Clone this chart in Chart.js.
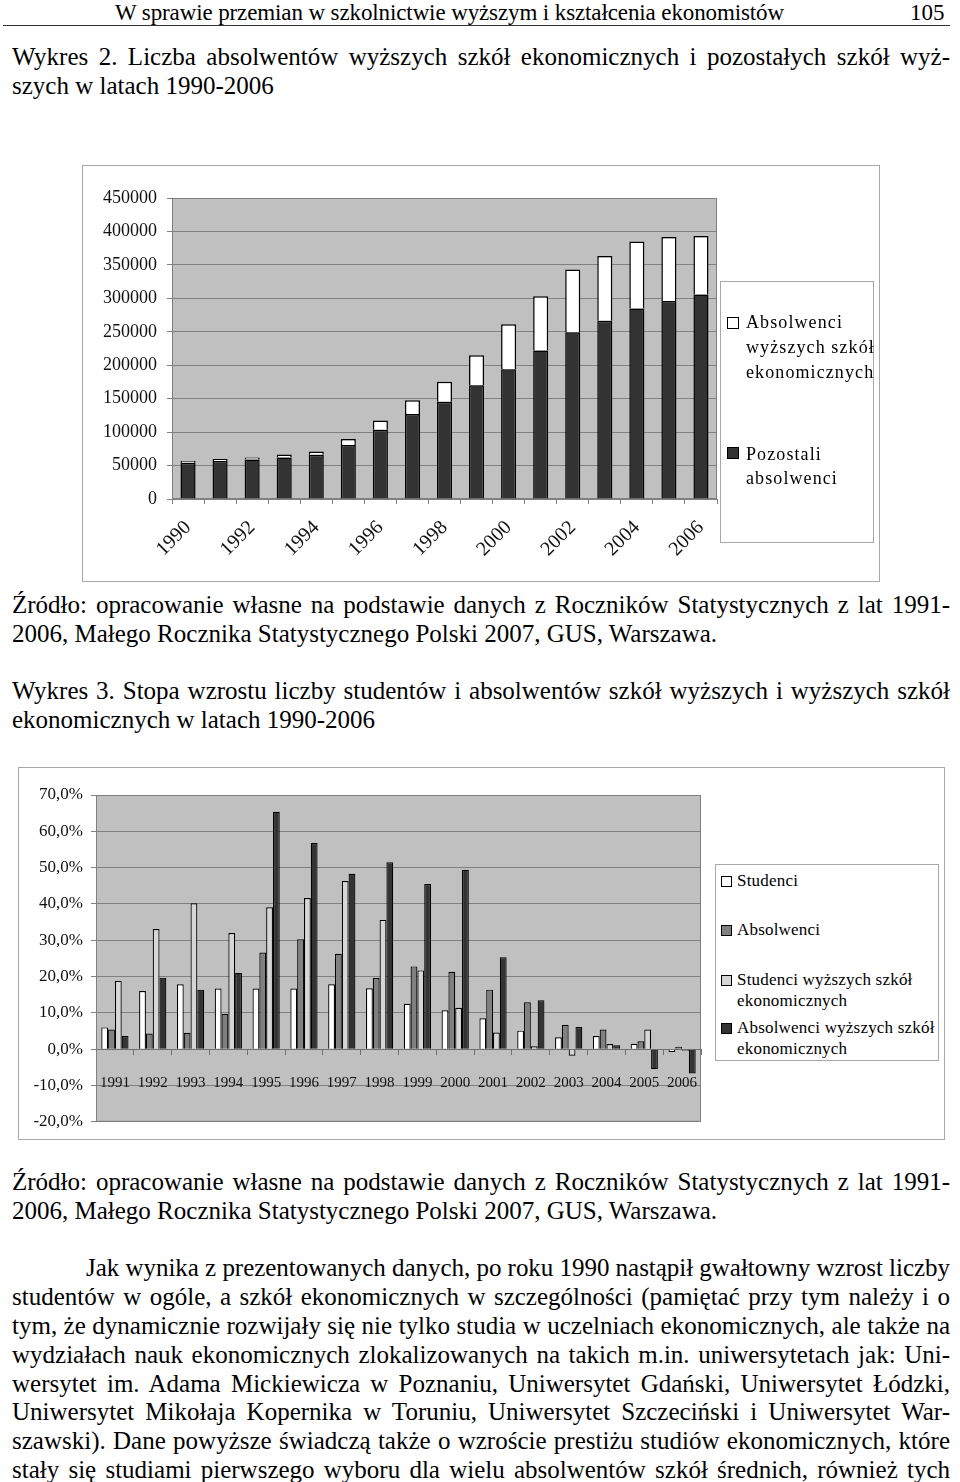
<!DOCTYPE html>
<html>
<head>
<meta charset="utf-8">
<script src="https://cdn.jsdelivr.net/npm/chart.js@4.4.0/dist/chart.umd.min.js"></script>
<style>
  body { margin:0; background:#fff; width:960px; height:1482px; position:relative; overflow:hidden;
         font-family:'Liberation Serif','Times New Roman',serif; color:#000; }
  .ln { position:absolute; white-space:nowrap; line-height:1; }
  .frame { position:absolute; border:1px solid #a8a8a8; box-sizing:border-box; }
  canvas { position:absolute; }
  .leg { position:absolute; border:1px solid #a8a8a8; box-sizing:border-box; background:#fff; }
  .sw { position:absolute; border:1px solid #000; box-sizing:border-box; }
  #hr { position:absolute; left:3px; top:25px; width:947px; height:1px; background:#333; }
</style>
</head>
<body>
<div id="hr"></div>

<div class="frame" style="left:82px;top:165px;width:798px;height:417px"></div>
<canvas id="wykres2" width="798" height="417" style="left:82px;top:165px"></canvas>

<div class="frame" style="left:18px;top:767px;width:927px;height:373px"></div>
<canvas id="wykres3" width="927" height="373" style="left:18px;top:767px"></canvas>

<script>
// Wykres 2 - liczba absolwentow
const lata2 = ['1990','1991','1992','1993','1994','1995','1996','1997','1998','1999','2000','2001','2002','2003','2004','2005','2006'];
const pozostali = [54300, 56700, 59200, 62200, 66200, 80600, 103500, 126900, 145400, 170200, 194100, 222000, 249400, 266300, 284700, 296200, 305600];
const ekonomiczni = [2500, 3000, 3000, 4500, 5000, 9000, 14000, 20900, 29800, 44800, 67200, 81200, 93600, 97100, 100100, 95600, 87700];

// Wykres 3 - stopa wzrostu (%)
const lata3 = ['1991','1992','1993','1994','1995','1996','1997','1998','1999','2000','2001','2002','2003','2004','2005','2006'];
const studenci = [6.0, 16.0, 17.9, 16.7, 16.7, 16.7, 17.9, 16.8, 12.5, 10.7, 8.5, 5.1, 3.3, 3.6, 1.5, -0.8];
const absolwenci = [5.4, 4.3, 4.5, 9.7, 26.6, 30.3, 26.3, 19.6, 22.8, 21.3, 16.4, 12.9, 6.7, 5.4, 2.2, 0.7];
const studenciEkon = [18.8, 33.1, 40.2, 32.0, 39.1, 41.6, 46.3, 35.6, 21.7, 11.4, 4.6, 0.8, -1.8, 1.4, 5.4, -0.4];
const absolwenciEkon = [3.6, 19.7, 16.4, 21.0, 65.4, 56.8, 48.3, 51.5, 45.5, 49.4, 25.3, 13.5, 6.1, 1.1, -5.5, -6.7];

const serif = "'Liberation Serif','Times New Roman',serif";

// tekst strony: [tekst, x, linia bazowa, szerokosc do justowania (0 = brak), rozmiar]
const wiersze = [
  ['W sprawie przemian w szkolnictwie wyższym i kształcenia ekonomistów', 115, 20, 669, 23],
  ['105', 910, 20, 0, 23],
  ['Wykres 2. Liczba absolwentów wyższych szkół ekonomicznych i pozostałych szkół wyż-', 12, 64.5, 938, 25],
  ['szych w latach 1990-2006', 12, 93.5, 0, 25],
  ['Źródło: opracowanie własne na podstawie danych z Roczników Statystycznych z lat 1991-', 12, 613, 938, 25],
  ['2006, Małego Rocznika Statystycznego Polski 2007, GUS, Warszawa.', 12, 642, 0, 25],
  ['Wykres 3. Stopa wzrostu liczby studentów i absolwentów szkół wyższych i wyższych szkół', 12, 699, 938, 25],
  ['ekonomicznych w latach 1990-2006', 12, 728, 0, 25],
  ['Źródło: opracowanie własne na podstawie danych z Roczników Statystycznych z lat 1991-', 12, 1190, 938, 25],
  ['2006, Małego Rocznika Statystycznego Polski 2007, GUS, Warszawa.', 12, 1219, 0, 25],
  ['Jak wynika z prezentowanych danych, po roku 1990 nastąpił gwałtowny wzrost liczby', 86, 1276, 864, 25],
  ['studentów w ogóle, a szkół ekonomicznych w szczególności (pamiętać przy tym należy i o', 12, 1305, 938, 25],
  ['tym, że dynamicznie rozwijały się nie tylko studia w uczelniach ekonomicznych, ale także na', 12, 1334, 938, 25],
  ['wydziałach nauk ekonomicznych zlokalizowanych na takich m.in. uniwersytetach jak: Uni-', 12, 1362.5, 938, 25],
  ['wersytet im. Adama Mickiewicza w Poznaniu, Uniwersytet Gdański, Uniwersytet Łódzki,', 12, 1391.5, 938, 25],
  ['Uniwersytet Mikołaja Kopernika w Toruniu, Uniwersytet Szczeciński i Uniwersytet War-', 12, 1420, 938, 25],
  ['szawski). Dane powyższe świadczą także o wzroście prestiżu studiów ekonomicznych, które', 12, 1449, 938, 25],
  ['stały się studiami pierwszego wyboru dla wielu absolwentów szkół średnich, również tych', 12, 1478, 938, 25]
];

function dodajTekst(t, x, base, size, spacing) {
  const el = document.createElement('div');
  el.className = 'ln';
  el.textContent = t;
  el.style.fontSize = size + 'px';
  el.style.left = x + 'px';
  el.style.top = (base - size * 0.8375) + 'px';
  if (spacing) el.style.letterSpacing = spacing + 'px';
  document.body.appendChild(el);
  return el;
}

wiersze.forEach(([t, x, base, w, size]) => {
  const el = dodajTekst(t, x, base, size);
  if (!w) return;
  const nat = el.getBoundingClientRect().width;
  const spaces = (t.match(/ /g) || []).length;
  if (nat > w) el.style.letterSpacing = ((w - nat) / t.length) + 'px';
  else if (spaces) el.style.wordSpacing = ((w - nat) / spaces) + 'px';
});

// legendy (html)
function legenda(box, pozycje, size, spacing) {
  const l = document.createElement('div');
  l.className = 'leg';
  Object.assign(l.style, { left: box[0] + 'px', top: box[1] + 'px', width: box[2] + 'px', height: box[3] + 'px' });
  document.body.appendChild(l);
  pozycje.forEach(p => {
    const s = document.createElement('div');
    s.className = 'sw';
    Object.assign(s.style, { left: p.sx + 'px', top: p.sy + 'px', width: p.sw + 'px', height: p.sw + 'px', background: p.kolor });
    document.body.appendChild(s);
    p.linie.forEach((t, i) => dodajTekst(t, p.tx, p.base + i * p.lh, size, spacing));
  });
}

legenda([720, 281, 154, 262], [
  { kolor: '#fff', sx: 727, sy: 317, sw: 12, tx: 746, base: 328, lh: 25, linie: ['Absolwenci', 'wyższych szkół', 'ekonomicznych'] },
  { kolor: '#333', sx: 727, sy: 447, sw: 12, tx: 746, base: 460, lh: 24, linie: ['Pozostali', 'absolwenci'] }
], 18, 1.1);

legenda([715, 864, 224, 197], [
  { kolor: '#fff', sx: 721, sy: 876, sw: 11, tx: 737, base: 886, lh: 21, linie: ['Studenci'] },
  { kolor: '#808080', sx: 721, sy: 925, sw: 11, tx: 737, base: 935, lh: 21, linie: ['Absolwenci'] },
  { kolor: '#d6d6d6', sx: 721, sy: 975, sw: 11, tx: 737, base: 985, lh: 21, linie: ['Studenci wyższych szkół', 'ekonomicznych'] },
  { kolor: '#333', sx: 721, sy: 1023, sw: 11, tx: 737, base: 1033, lh: 21, linie: ['Absolwenci wyższych szkół', 'ekonomicznych'] }
], 17, 0.2);

// szare tlo obszaru wykresu
const tloWykresu = {
  id: 'tloWykresu',
  beforeDraw(chart) {
    const { ctx, chartArea: a } = chart;
    ctx.save();
    ctx.fillStyle = '#c0c0c0';
    ctx.fillRect(a.left, a.top, a.width, a.height);
    ctx.strokeStyle = '#808080';
    ctx.lineWidth = 1;
    ctx.strokeRect(a.left + 0.5, a.top + 0.5, a.width - 1, a.height - 1);
    ctx.restore();
  }
};

new Chart(document.getElementById('wykres2'), {
  type: 'bar',
  data: {
    labels: lata2,
    datasets: [
      { label: 'Pozostali absolwenci', data: pozostali, backgroundColor: '#333333', borderColor: '#000', borderWidth: 1.5 },
      { label: 'Absolwenci wyższych szkół ekonomicznych', data: ekonomiczni, backgroundColor: '#ffffff', borderColor: '#000', borderWidth: 1.5 }
    ]
  },
  options: {
    responsive: false,
    animation: false,
    layout: { padding: { top: 33, right: 163, left: 0, bottom: 0 } },
    plugins: { legend: { display: false }, tooltip: { enabled: false } },
    datasets: { bar: { categoryPercentage: 1, barPercentage: 0.47 } },
    scales: {
      x: {
        stacked: true,
        grid: { drawOnChartArea: false, color: '#808080', tickLength: 5, offset: true },
        border: { color: '#808080' },
        ticks: {
          autoSkip: false, minRotation: 45, maxRotation: 45, padding: 12, color: '#111',
          font: { family: serif, size: 20 },
          callback(v, i) { return i % 2 === 0 ? this.getLabelForValue(v) : ''; }
        },
        afterFit(s) { s.height = 83; }
      },
      y: {
        stacked: true, min: 0, max: 450000,
        grid: { color: '#808080', tickLength: 5 },
        border: { color: '#808080' },
        ticks: { stepSize: 50000, padding: 10, color: '#111', font: { family: serif, size: 18 }, callback: v => String(v) },
        afterFit(s) { s.width = 90; }
      }
    }
  },
  plugins: [tloWykresu]
});

new Chart(document.getElementById('wykres3'), {
  type: 'bar',
  data: {
    labels: lata3,
    datasets: [
      { label: 'Studenci', data: studenci, backgroundColor: '#ffffff' },
      { label: 'Absolwenci', data: absolwenci, backgroundColor: '#808080' },
      { label: 'Studenci wyższych szkół ekonomicznych', data: studenciEkon, backgroundColor: '#d6d6d6' },
      { label: 'Absolwenci wyższych szkół ekonomicznych', data: absolwenciEkon, backgroundColor: '#333333' }
    ]
  },
  options: {
    responsive: false,
    animation: false,
    layout: { padding: { top: 28, right: 244, left: 0, bottom: 8 } },
    plugins: { legend: { display: false }, tooltip: { enabled: false } },
    datasets: { bar: { categoryPercentage: 0.72, barPercentage: 1, borderColor: '#000', borderWidth: 1.2 } },
    scales: {
      x: {
        position: { y: 0 },
        grid: { drawOnChartArea: false, color: '#707070', tickLength: 5, offset: true },
        border: { color: '#707070' },
        ticks: { autoSkip: false, maxRotation: 0, padding: 20, color: '#111', font: { family: serif, size: 15 } }
      },
      y: {
        min: -20, max: 70,
        grid: { color: '#808080', tickLength: 5 },
        border: { color: '#808080' },
        ticks: { stepSize: 10, padding: 8, color: '#111', font: { family: serif, size: 17 },
                 callback: v => v.toFixed(1).replace('.', ',') + '%' },
        afterFit(s) { s.width = 78; }
      }
    }
  },
  plugins: [tloWykresu]
});
</script>
</body>
</html>
